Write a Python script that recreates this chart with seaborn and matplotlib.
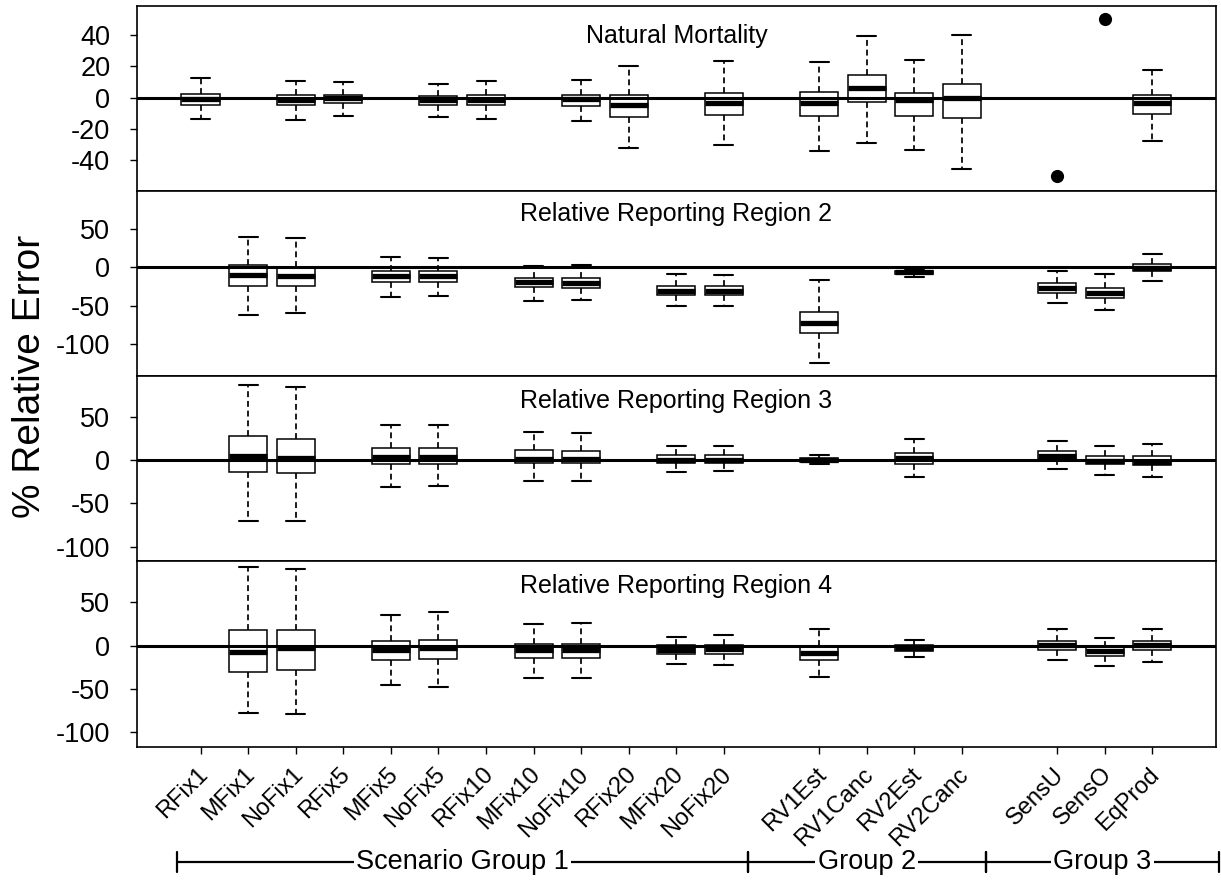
import numpy as np
import pandas as pd
import matplotlib
matplotlib.use("Agg")
import matplotlib.pyplot as plt
import matplotlib.transforms as mtransforms
import seaborn as sns

sns.set_theme(style="white")
plt.rcParams["font.family"] = ["Liberation Sans", "DejaVu Sans"]
plt.rcParams["axes.unicode_minus"] = False

# Scenario names, grouped; groups are separated by one empty slot on the axis
group_names = ["Scenario Group 1", "Group 2", "Group 3"]
group_members = [
    ["RFix1", "MFix1", "NoFix1", "RFix5", "MFix5", "NoFix5",
     "RFix10", "MFix10", "NoFix10", "RFix20", "MFix20", "NoFix20"],
    ["RV1Est", "RV1Canc", "RV2Est", "RV2Canc"],
    ["SensU", "SensO", "EqProd"],
]

# Box summaries: (lower whisker, Q1, median, Q3, upper whisker), % relative error
natural_mortality = {
    "RFix1": (-13.5, -4.5, -1.0, 2.1, 12.2),
    "NoFix1": (-14.4, -5.0, -1.5, 1.5, 10.7),
    "RFix5": (-11.8, -3.7, -0.5, 1.7, 9.8),
    "NoFix5": (-12.2, -5.0, -1.5, 1.0, 8.8),
    "RFix10": (-14.0, -5.0, -1.5, 1.5, 10.7),
    "NoFix10": (-15.3, -5.4, -1.0, 1.5, 11.3),
    "RFix20": (-32.6, -12.2, -4.5, 1.5, 19.9),
    "NoFix20": (-30.7, -11.2, -3.7, 2.6, 23.2),
    "RV1Est": (-34.4, -11.8, -3.2, 3.4, 22.9),
    "RV1Canc": (-29.0, -2.6, 6.4, 14.5, 39.6),
    "RV2Est": (-33.7, -11.8, -1.5, 3.0, 24.2),
    "RV2Canc": (-45.5, -13.3, -0.6, 8.8, 40.0),
    "EqProd": (-27.7, -10.3, -3.7, 1.7, 17.6),
}
# Sensitivity runs with M fixed at a mis-specified value
natural_mortality_fixed = {"SensU": -50.0, "SensO": 50.0}

region2 = {
    "MFix1": (-62.0, -23.8, -9.6, 2.6, 39.6),
    "NoFix1": (-58.7, -23.8, -11.3, 0.0, 37.9),
    "MFix5": (-38.0, -18.6, -11.6, -5.2, 12.9),
    "NoFix5": (-37.1, -18.6, -11.6, -5.2, 11.6),
    "MFix10": (-43.6, -25.9, -19.4, -13.5, 2.0),
    "NoFix10": (-42.7, -26.8, -20.3, -13.8, 3.0),
    "MFix20": (-50.5, -35.8, -30.2, -24.6, -8.7),
    "NoFix20": (-50.0, -35.8, -30.2, -24.6, -10.3),
    "RV1Est": (-125.0, -85.9, -73.0, -57.4, -16.0),
    "RV2Est": (-12.0, -8.5, -6.0, -4.5, -2.0),
    "SensU": (-46.2, -32.9, -26.8, -20.7, -5.2),
    "SensO": (-55.6, -39.7, -33.7, -26.4, -8.3),
    "EqProd": (-17.3, -5.2, -0.5, 4.3, 17.6),
}

region3 = {
    "MFix1": (-70.2, -13.1, 4.5, 28.1, 87.2),
    "NoFix1": (-70.2, -15.0, 3.0, 25.1, 84.8),
    "MFix5": (-31.2, -4.3, 4.3, 13.9, 40.5),
    "NoFix5": (-29.7, -4.3, 4.3, 13.9, 40.5),
    "MFix10": (-23.9, -2.7, 2.0, 11.6, 33.2),
    "NoFix10": (-23.9, -3.5, 2.0, 11.2, 32.0),
    "MFix20": (-13.5, -3.1, 0.5, 5.8, 16.6),
    "NoFix20": (-12.7, -2.7, 1.0, 6.2, 17.0),
    "RV1Est": (-4.6, -2.3, 0.5, 3.1, 5.8),
    "RV2Est": (-19.7, -3.9, 2.3, 8.1, 24.7),
    "SensU": (-9.6, 1.2, 5.0, 10.8, 22.0),
    "SensO": (-16.6, -4.6, -1.0, 5.0, 16.6),
    "EqProd": (-19.7, -5.4, -1.5, 5.0, 19.3),
}

region4 = {
    "MFix1": (-77.9, -30.9, -6.9, 18.5, 91.0),
    "NoFix1": (-79.0, -28.2, -2.7, 18.1, 88.7),
    "MFix5": (-45.9, -16.2, -5.0, 5.4, 35.1),
    "NoFix5": (-47.5, -15.0, -2.7, 6.6, 39.0),
    "MFix10": (-37.4, -13.9, -4.6, 2.3, 25.1),
    "NoFix10": (-37.0, -14.3, -4.6, 2.3, 25.5),
    "MFix20": (-20.8, -10.0, -5.0, 1.0, 10.0),
    "NoFix20": (-22.0, -9.3, -4.5, 1.0, 11.6),
    "RV1Est": (-36.3, -16.2, -8.1, -1.0, 19.3),
    "RV2Est": (-12.7, -5.8, -3.0, 0.5, 6.2),
    "SensU": (-17.0, -4.6, 0.5, 5.8, 18.9),
    "SensO": (-23.9, -12.3, -6.0, -1.5, 8.9),
    "EqProd": (-18.5, -5.0, 0.5, 5.4, 18.9),
}

panel_titles = ["Natural Mortality", "Relative Reporting Region 2",
                "Relative Reporting Region 3", "Relative Reporting Region 4"]
panel_data = [natural_mortality, region2, region3, region4]
panel_yticks = [[-40, -20, 0, 20, 40], [-100, -50, 0, 50],
                [-100, -50, 0, 50], [-100, -50, 0, 50]]
panel_ylims = [(-59.8, 58.8), (-141.6, 99.5), (-117.2, 97.6), (-116.5, 96.9)]
title_y = [0.80, 0.838, 0.83, 0.832]

# Axis positions: consecutive within a group, one empty slot between groups
positions = {}
group_spans = []
pos = 1
span_start = 0.5
for members in group_members:
    for name in members:
        positions[name] = pos
        pos += 1
    span_end = pos - 0.5
    group_spans.append((span_start, span_end))
    span_start = span_end
    pos += 1
scenario_order = [n for m in group_members for n in m]
n_slots = pos - 2  # last occupied slot
pad = 0.04 * n_slots
xlim = (0.5 - pad, n_slots + 0.5 + pad)

fig = plt.figure(figsize=(12.21, 8.81), dpi=100)
gs = fig.add_gridspec(4, 1, left=0.112, right=0.9959, top=0.99353,
                      bottom=0.15244, hspace=0)
axes = [fig.add_subplot(gs[i]) for i in range(4)]

edge_lw = 1.1
for i, ax in enumerate(axes):
    summ = panel_data[i]
    rows = []
    for name, vals in summ.items():
        for v in vals:
            rows.append({"scenario": name, "pos": positions[name], "value": v})
    df = pd.DataFrame(rows)
    sns.boxplot(
        data=df, x="pos", y="value", orient="x", native_scale=True,
        whis=(0, 100), width=0.8, color="white", saturation=1,
        linecolor="black", linewidth=edge_lw, fliersize=0, ax=ax,
        medianprops={"linewidth": 3.8, "color": "black",
                     "solid_capstyle": "butt"},
        whiskerprops={"linestyle": (0, (3.4, 2.2)), "linewidth": 1.25,
                      "color": "black", "dash_capstyle": "butt"},
        capprops={"linewidth": 1.5, "color": "black"},
        boxprops={"edgecolor": "black", "linewidth": edge_lw},
    )
    if i == 0:
        pts = pd.DataFrame({
            "pos": [positions[k] for k in natural_mortality_fixed],
            "value": list(natural_mortality_fixed.values()),
        })
        sns.scatterplot(data=pts, x="pos", y="value", color="black",
                        s=90, edgecolor="black", linewidth=0, ax=ax,
                        zorder=4)
    ax.axhline(0, color="black", linewidth=2.2, zorder=5)
    ax.set_xlim(*xlim)
    ax.set_ylim(*panel_ylims[i])
    ax.set_yticks(panel_yticks[i])
    ax.set_yticklabels([str(t) for t in panel_yticks[i]])
    ax.tick_params(axis="y", direction="out", length=5, width=1,
                   labelsize=19.5, pad=14, left=True, colors="black")
    ax.set_xlabel("")
    ax.set_ylabel("")
    for sp in ax.spines.values():
        sp.set_visible(True)
        sp.set_color("black")
        sp.set_linewidth(1.2)
    ax.text(0.5, title_y[i], panel_titles[i], transform=ax.transAxes,
            ha="center", va="baseline", fontsize=18, color="black")
    if i < 3:
        ax.set_xticks([])
    else:
        ax.set_xticks([positions[n] for n in scenario_order])
        ax.set_xticklabels(scenario_order, rotation=45, ha="right",
                           rotation_mode="anchor", fontsize=17)
        ax.tick_params(axis="x", direction="out", length=5, width=1,
                       pad=7, bottom=True, colors="black")
        shift = mtransforms.ScaledTranslation(-3 / 72, 0,
                                              fig.dpi_scale_trans)
        for lab in ax.get_xticklabels():
            lab.set_transform(lab.get_transform() + shift)

fig.text(30 / 1221, 1 - 376 / 881, "% Relative Error", rotation=90,
         ha="center", va="center", fontsize=28, color="black")

# Scenario group brackets under the tick labels
ax = axes[-1]
trans = mtransforms.blended_transform_factory(ax.transData, fig.transFigure)
ybar = 1 - 862 / 881
tick_h = 0.011
spans = list(group_spans)
spans[-1] = (spans[-1][0], xlim[1] + 0.06)
for (x0, x1), label in zip(spans, group_names):
    ax.plot([x0, x1], [ybar, ybar], color="black", lw=1.6,
            transform=trans, clip_on=False, solid_capstyle="butt")
    for xe in (x0, x1):
        ax.plot([xe, xe], [ybar - tick_h, ybar + tick_h], color="black",
                lw=1.6, transform=trans, clip_on=False)
    ax.text((x0 + x1) / 2, ybar, label, transform=trans, ha="center",
            va="center", fontsize=19.5, color="black", zorder=6,
            bbox=dict(facecolor="white", edgecolor="none", pad=1.5))

fig.savefig("out.png", dpi=100, facecolor="white")
